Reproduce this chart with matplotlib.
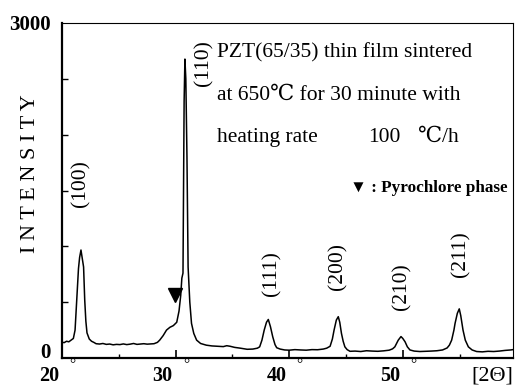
import matplotlib
matplotlib.use("Agg")
import matplotlib.pyplot as plt
import matplotlib.transforms as mtransforms

# XRD pattern of PZT(65/35) thin film
two_theta = [20.0, 20.2, 20.4, 20.6, 20.8, 21.0, 21.15, 21.3, 21.45, 21.55, 21.67, 21.8, 21.9, 22.0,
             22.1, 22.2, 22.4, 22.6, 22.8, 23.0, 23.3, 23.6, 23.9, 24.2, 24.5, 24.8, 25.1, 25.4,
             25.7, 26.0, 26.3, 26.6, 26.9, 27.2, 27.5, 27.8, 28.1, 28.4, 28.6, 28.9, 29.2, 29.5,
             29.8, 30.1, 30.3, 30.45, 30.55, 30.65, 30.7, 30.75, 30.82, 30.9, 31.0, 31.1, 31.25,
             31.4, 31.6, 31.85, 32.2, 32.7, 33.2, 33.7, 34.2, 34.5, 34.8, 35.2, 35.7, 36.3, 36.8,
             37.2, 37.4, 37.6, 37.8, 38.0, 38.16, 38.35, 38.55, 38.75, 38.9, 39.2, 39.6, 40.0,
             40.5, 41.0, 41.5, 42.0, 42.5, 43.0, 43.3, 43.6, 43.8, 43.95, 44.15, 44.32, 44.45,
             44.6, 44.75, 44.9, 45.1, 45.35, 45.8, 46.3, 46.8, 47.3, 47.8, 48.3, 48.8, 49.1,
             49.3, 49.45, 49.6, 49.84, 50.0, 50.2, 50.4, 50.63, 51.0, 51.5, 52.0, 52.5, 53.0,
             53.5, 53.9, 54.1, 54.3, 54.5, 54.6, 54.8, 54.97, 55.1, 55.3, 55.5, 55.77, 56.1,
             56.5, 57.0, 57.5, 58.0, 58.5, 59.0, 59.5, 59.7]
intensity = [140, 138, 150, 145, 160, 175, 250, 520, 800, 900, 967, 880, 815, 520,
             330, 225, 170, 150, 140, 128, 125, 130, 122, 125, 118, 122, 120, 126,
             120, 124, 130, 122, 125, 128, 124, 126, 128, 140, 160, 200, 250, 275,
             290, 320, 420, 560, 715, 760, 1500, 2300, 2677, 2500, 1800, 815, 500,
             310, 220, 160, 130, 115, 108, 105, 102, 110, 105, 95, 88, 78, 80,
             88, 100, 160, 250, 320, 345, 280, 190, 120, 92, 80, 72, 70,
             75, 72, 70, 75, 74, 80, 88, 105, 170, 250, 340, 370, 320,
             220, 150, 100, 75, 60, 62, 58, 65, 62, 60, 64, 70, 82,
             100, 130, 160, 192, 175, 145, 100, 72, 62, 58, 60, 62, 65,
             72, 90, 115, 160, 250, 310, 400, 440, 380, 250, 160, 100, 72,
             58, 55, 60, 58, 62, 68, 72, 75]

# peak indexing labels
peak_labels = ["(100)", "(110)", "(111)", "(200)", "(210)", "(211)"]
peak_x = [21.7, 32.5, 38.5, 44.3, 49.9, 55.1]
peak_y = [1560, 2640, 760, 815, 635, 930]

# pyrochlore phase marker
pyro_x = [29.95]
pyro_y = [564]

xtick_vals = [20, 30, 40, 50]

serif = ["Liberation Serif", "DejaVu Serif", "DejaVu Sans"]

fig = plt.figure(figsize=(5.17, 3.86), dpi=100)
ax = fig.add_axes([62 / 517, 28 / 386, 451 / 517, 335 / 386])

ax.plot(two_theta, intensity, color="black", lw=1.1)
ax.plot(pyro_x, pyro_y, marker="v", color="black", markersize=10, ls="none")

ax.set_xlim(20, 59.7)
ax.set_ylim(0, 3000)

for lab, px, py in zip(peak_labels, peak_x, peak_y):
    ax.text(px, py, lab, rotation=90, ha="center", va="center", fontsize=15.5, family=serif)

ax.text(33.65, 2730, "PZT(65/35) thin film sintered", fontsize=15.5, family=serif, va="center")
ax.text(33.65, 2355, "at 650\u2103 for 30 minute with", fontsize=15.5, family=serif, va="center")
ax.text(33.65, 1978, "heating rate", fontsize=15.5, family=serif, va="center")
ax.text(46.94, 1978, "100", fontsize=15.5, family=serif, va="center")
ax.text(51.34, 1978, "\u2103/h", fontsize=15.5, family=serif, va="center")
ax.text(45.35, 1522, "\u25bc : Pyrochlore phase", fontsize=12.3, family=serif, va="center",
        fontweight="bold")

# spines: heavy left/bottom, thin top/right
for side in ["left", "bottom"]:
    ax.spines[side].set_linewidth(1.6)
for side in ["top", "right"]:
    ax.spines[side].set_linewidth(0.8)

ax.set_xticks(xtick_vals)
ax.set_xticks([25, 35, 45, 55], minor=True)
ax.set_xticklabels([])
ax.tick_params(axis="x", which="major", direction="in", length=6, width=1.2)
ax.tick_params(axis="x", which="minor", direction="in", length=3, width=1.0)

ax.set_yticks([0, 3000])
ax.set_yticks([500, 1000, 1500, 2000, 2500], minor=True)
ax.set_yticklabels(["0", "3000"], fontsize=15, fontweight="bold", family=serif)
ax.tick_params(axis="y", which="major", direction="in", length=0, pad=8)
ax.tick_params(axis="y", which="minor", direction="in", length=4, width=1.0)
ax.get_yticklabels()[0].set_va("baseline")

# x labels: number left of the tick, small degree mark right of it
trans = mtransforms.blended_transform_factory(ax.transData, fig.transFigure)
for v in xtick_vals:
    ax.text(v - 0.25, 10 / 386, str(v), transform=trans, ha="right", va="center",
            fontsize=14.5, family=serif, fontweight="bold")
    ax.text(v + 0.9, 21 / 386, "\u00b0", transform=trans, ha="center", va="center",
            fontsize=11, family=serif)
fig.text(513 / 517, 10 / 386, "[2\u0398]", ha="right", va="center", fontsize=16, family=serif)

fig.text(31 / 517, 1 - 174 / 386, "I N T E N S I T Y", rotation=90, ha="center", va="center",
         fontsize=16, family=serif)

fig.savefig("out.png", dpi=100)
